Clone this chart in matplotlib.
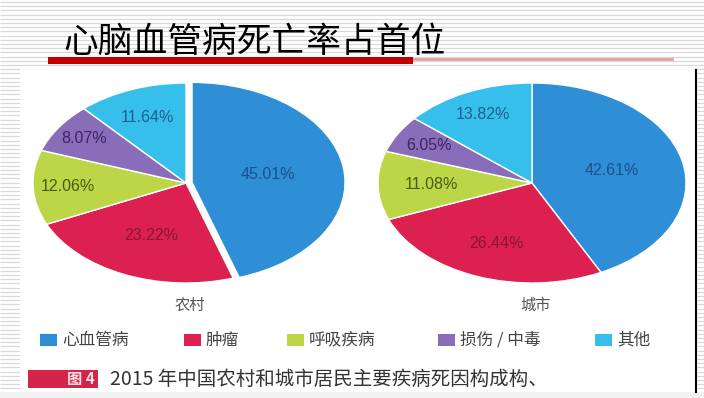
import numpy as np
import matplotlib.pyplot as plt
from matplotlib.patches import Rectangle

plt.rcParams['font.family'] = ['Noto Sans CJK SC', 'DejaVu Sans']

# data
title = '心脑血管病死亡率占首位'
categories = ['心血管病', '肿瘤', '呼吸疾病', '损伤 / 中毒', '其他']
rural = [45.01, 23.22, 12.06, 8.07, 11.64]
urban = [42.61, 26.44, 11.08, 6.05, 13.82]
group_names = ['农村', '城市']
caption_tag = '图 4'
caption = '2015 年中国农村和城市居民主要疾病死因构成构、'

colors = ['#2e8ed6', '#dc2150', '#bdd648', '#8a6db8', '#37bfec']
label_colors = ['#1d4f8c', '#8c1430', '#4a5a12', '#3c2466', '#1d5f92']

W, H = 704, 398
fig = plt.figure(figsize=(W / 100, H / 100), dpi=100)

# slide background in pixel coords
bg = fig.add_axes([0, 0, 1, 1])
bg.set_xlim(0, W)
bg.set_ylim(H, 0)
bg.axis('off')
bg.hlines(np.arange(2, H, 4.2), 0, W, color='#d9d9d9', lw=0.9, zorder=0)
bg.add_patch(Rectangle((20, 68), 676, 324, facecolor='white', edgecolor='none', zorder=1))
bg.add_patch(Rectangle((0, 392), W, 6, facecolor='#f2f2f2', edgecolor='none', zorder=1))
bg.plot([696, 696], [70, 392], color='black', lw=1.5, zorder=2)

# title + underline
bg.text(63, 42, title, fontsize=25, color='black', va='center', ha='left', zorder=3)
bg.add_patch(Rectangle((48, 57), 365, 7, facecolor='#c00000', edgecolor='none', zorder=3))
bg.plot([413, 672], [59, 59], color='#e0a0a0', lw=2, zorder=2)


def draw_pie(cx, cy, rx, ry, values, explode_blue, label_r, name):
    lim = 1.1
    ax = fig.add_axes([(cx - lim * rx) / W, (H - cy - lim * ry) / H,
                       2 * lim * rx / W, 2 * lim * ry / H])
    explode = [explode_blue] + [0] * (len(values) - 1)
    wedges, _, autotexts = ax.pie(values, colors=colors, startangle=90, counterclock=False,
                                  explode=explode, autopct=lambda p: f'{p:.2f}%',
                                  wedgeprops=dict(edgecolor='white', linewidth=1.0),
                                  textprops=dict(family=['Liberation Sans', 'DejaVu Sans'],
                                                 fontsize=11.5))
    for w, t, r, c in zip(wedges, autotexts, label_r, label_colors):
        mid = np.deg2rad((w.theta1 + w.theta2) / 2)
        x0, y0 = w.center
        t.set_position((x0 + r * np.cos(mid), y0 + r * np.sin(mid)))
        t.set_color(c)
    ax.set_aspect('auto')
    ax.set_xlim(-lim, lim)
    ax.set_ylim(-lim, lim)
    bg.text(cx + 4, 305, name, fontsize=11, color='#555555', ha='center', va='center', zorder=3)


draw_pie(186, 183, 153, 100, rural, 0.04, [0.5, 0.57, 0.77, 0.8, 0.7], group_names[0])
draw_pie(532, 183, 154, 100, urban, 0.0, [0.53, 0.65, 0.65, 0.77, 0.75], group_names[1])

# legend
legend_x = [40, 184, 287, 438, 595]
for x, cat, col in zip(legend_x, categories, colors):
    bg.add_patch(Rectangle((x, 334), 17, 12, facecolor=col, edgecolor='none', zorder=3))
    bg.text(x + 22, 340, cat, fontsize=12, color='#444444', va='center', ha='left', zorder=3)

# caption
bg.add_patch(Rectangle((28, 370), 70, 18, facecolor='#d42447', edgecolor='none', zorder=3))
bg.text(95, 379, caption_tag, fontsize=11, color='#fbe0e6', fontweight='bold',
        va='center', ha='right', zorder=4)
bg.text(110, 379, caption, fontsize=14, color='#333333', va='center', ha='left', zorder=3)

fig.savefig('out.png', dpi=100)
